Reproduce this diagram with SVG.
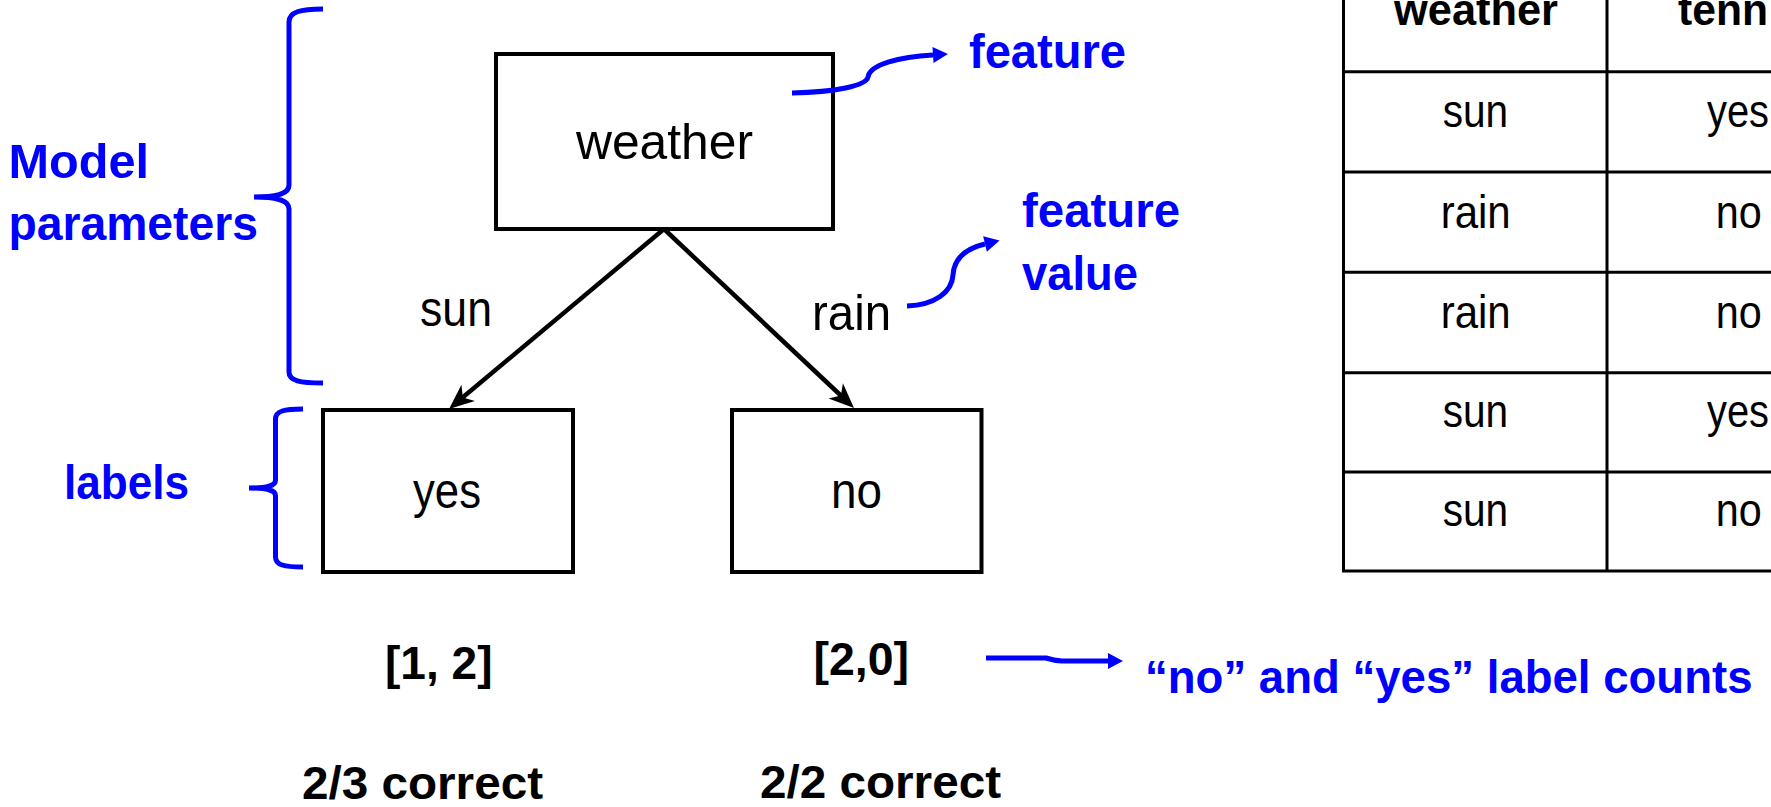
<svg xmlns="http://www.w3.org/2000/svg" width="1771" height="807" viewBox="0 0 1771 807">
  <style>
    .box { fill: #ffffff; stroke: #000000; stroke-width: 4; }
    .edge { fill: none; stroke: #000000; stroke-width: 4.5; }
    .note { fill: none; stroke: #0000ff; stroke-width: 5; stroke-linecap: butt; }
    .grid { fill: none; stroke: #000000; stroke-width: 3; }
    .t { font-family: "Liberation Sans", Arial, sans-serif; font-size: 50px; fill: #000000; }
    .cell { font-family: "Liberation Sans", Arial, sans-serif; font-size: 47px; fill: #000000; }
    .head { font-family: "Liberation Sans", Arial, sans-serif; font-size: 44px; font-weight: bold; fill: #000000; }
    .b { font-family: "Liberation Sans", Arial, sans-serif; font-size: 46px; font-weight: bold; fill: #000000; }
    .blue { font-family: "Liberation Sans", Arial, sans-serif; font-size: 48px; font-weight: bold; fill: #0000ff; }
    .blue-long { font-family: "Liberation Sans", Arial, sans-serif; font-size: 46px; font-weight: bold; fill: #0000ff; }
  </style>
  <defs>
    <marker id="stealth" viewBox="-14 -12 30 24" markerWidth="30" markerHeight="24" refX="0" refY="0" orient="auto" markerUnits="userSpaceOnUse">
      <path d="M13,0 L-12,-10.5 L-5,0 L-12,10.5 Z" fill="#000000"/>
    </marker>
    <marker id="blueHead" viewBox="-1 -10 18 20" markerWidth="18" markerHeight="20" refX="0" refY="0" orient="auto" markerUnits="userSpaceOnUse">
      <path d="M0,-8 L15,0 L0,8 Z" fill="#0000ff"/>
    </marker>
  </defs>

  <rect width="1771" height="807" fill="#ffffff"/>

  <!-- decision tree -->
  <g id="node-weather">
    <rect class="box" x="496" y="54" width="337" height="175"/>
    <text class="t" x="576" y="159" textLength="177" lengthAdjust="spacingAndGlyphs">weather</text>
  </g>
  <g id="node-yes">
    <rect class="box" x="323" y="410" width="250" height="162"/>
    <text class="t" x="413" y="508" textLength="68" lengthAdjust="spacingAndGlyphs">yes</text>
  </g>
  <g id="node-no">
    <rect class="box" x="732" y="410" width="249.5" height="162"/>
    <text class="t" x="831" y="508" textLength="51" lengthAdjust="spacingAndGlyphs">no</text>
  </g>

  <g id="connectors">
    <line class="edge" x1="664" y1="229" x2="459" y2="400.6" marker-end="url(#stealth)"/>
    <line class="edge" x1="664" y1="229" x2="844.5" y2="399" marker-end="url(#stealth)"/>
    <text class="t" x="420" y="326" textLength="72" lengthAdjust="spacingAndGlyphs">sun</text>
    <text class="t" x="812" y="330" textLength="79" lengthAdjust="spacingAndGlyphs">rain</text>
  </g>

  <!-- leaf counts and accuracy -->
  <g id="counts-yes">
    <text class="b" x="385" y="679" textLength="107.5" lengthAdjust="spacingAndGlyphs">[1, 2]</text>
    <text class="b" x="302" y="799" textLength="241" lengthAdjust="spacingAndGlyphs">2/3 correct</text>
  </g>
  <g id="counts-no">
    <text class="b" x="813.5" y="675" textLength="95.5" lengthAdjust="spacingAndGlyphs">[2,0]</text>
    <text class="b" x="760" y="798" textLength="241" lengthAdjust="spacingAndGlyphs">2/2 correct</text>
  </g>

  <!-- blue annotations -->
  <g id="note-model-parameters">
    <path class="note" d="M323,9 C300,9 289,12 289,22 L289,185 C289,193 280,197 254,197 C280,197 289,201 289,209 L289,372 C289,381 300,383 323,383"/>
    <text class="blue" x="8.4" y="178" textLength="140.6" lengthAdjust="spacingAndGlyphs">Model</text>
    <text class="blue" x="8.4" y="240" textLength="249.6" lengthAdjust="spacingAndGlyphs">parameters</text>
  </g>
  <g id="note-labels">
    <path class="note" d="M303,409 C284,409 275.5,411 275.5,419 L275.5,480 C275.5,486 268,488 249,488 C268,488 275.5,490 275.5,496 L275.5,557 C275.5,565 284,567 303,567"/>
    <text class="blue" x="64" y="499" textLength="125" lengthAdjust="spacingAndGlyphs">labels</text>
  </g>
  <g id="note-feature">
    <path class="note" d="M792,93 C835,92 866,86 868,77 C870,64 900,57 933,55" marker-end="url(#blueHead)"/>
    <text class="blue" x="969" y="68" textLength="157" lengthAdjust="spacingAndGlyphs">feature</text>
  </g>
  <g id="note-feature-value">
    <path class="note" d="M907,306 C935,305 952,292 953,275 C954,257 968,248 985,244" marker-end="url(#blueHead)"/>
    <text class="blue" x="1022" y="227" textLength="158" lengthAdjust="spacingAndGlyphs">feature</text>
    <text class="blue" x="1022" y="290" textLength="116" lengthAdjust="spacingAndGlyphs">value</text>
  </g>
  <g id="note-label-counts">
    <path class="note" d="M986,658 L1046,658 Q1054,660.5 1062,661 L1108,661" marker-end="url(#blueHead)"/>
    <text class="blue-long" x="1145" y="693" textLength="607.5" lengthAdjust="spacingAndGlyphs">“no” and “yes” label counts</text>
  </g>

  <!-- training data table -->
  <g id="data-table">
    <line class="grid" x1="1343.5" y1="-5" x2="1343.5" y2="571"/>
    <line class="grid" x1="1607" y1="-5" x2="1607" y2="571"/>
    <line class="grid" x1="1342" y1="71.7" x2="1780" y2="71.7"/>
    <line class="grid" x1="1342" y1="172" x2="1780" y2="172"/>
    <line class="grid" x1="1342" y1="272.3" x2="1780" y2="272.3"/>
    <line class="grid" x1="1342" y1="372.7" x2="1780" y2="372.7"/>
    <line class="grid" x1="1342" y1="472" x2="1780" y2="472"/>
    <line class="grid" x1="1342" y1="571" x2="1780" y2="571"/>

    <text class="head" x="1394" y="25" textLength="164" lengthAdjust="spacingAndGlyphs">weather</text>
    <text class="head" x="1678" y="25" textLength="90" lengthAdjust="spacingAndGlyphs">tenn</text>

    <text class="cell" x="1442.7" y="127" textLength="65.5" lengthAdjust="spacingAndGlyphs">sun</text>
    <text class="cell" x="1707" y="127" textLength="62" lengthAdjust="spacingAndGlyphs">yes</text>
    <text class="cell" x="1440.7" y="227.7" textLength="70" lengthAdjust="spacingAndGlyphs">rain</text>
    <text class="cell" x="1715.7" y="227.7" textLength="46" lengthAdjust="spacingAndGlyphs">no</text>
    <text class="cell" x="1440.7" y="327.7" textLength="70" lengthAdjust="spacingAndGlyphs">rain</text>
    <text class="cell" x="1715.7" y="327.7" textLength="46" lengthAdjust="spacingAndGlyphs">no</text>
    <text class="cell" x="1442.7" y="427" textLength="65.5" lengthAdjust="spacingAndGlyphs">sun</text>
    <text class="cell" x="1707" y="427" textLength="62" lengthAdjust="spacingAndGlyphs">yes</text>
    <text class="cell" x="1442.7" y="526" textLength="65.5" lengthAdjust="spacingAndGlyphs">sun</text>
    <text class="cell" x="1715.7" y="526" textLength="46" lengthAdjust="spacingAndGlyphs">no</text>
  </g>
</svg>
